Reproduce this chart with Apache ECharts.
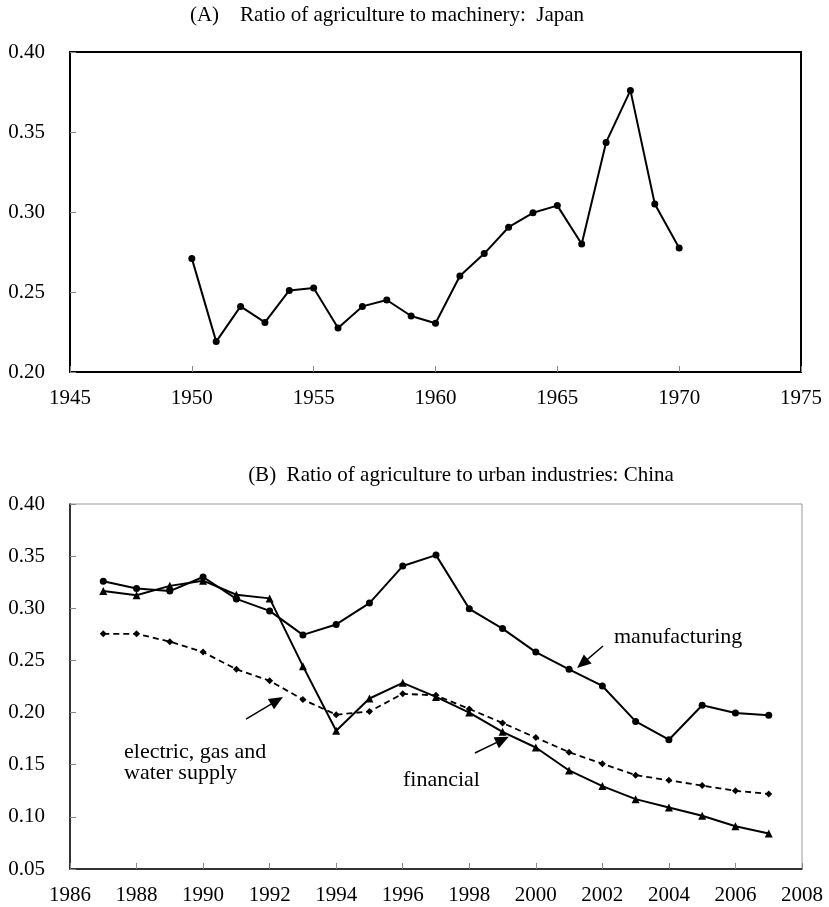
<!DOCTYPE html>
<html><head><meta charset="utf-8">
<script src="https://cdn.jsdelivr.net/npm/echarts@6/dist/echarts.min.js"></script>
<style>html,body{margin:0;padding:0;background:#fff}#c{width:829px;height:907px}</style>
</head><body><div id="c"></div>
<script>
const yearsA = [1950,1951,1952,1953,1954,1955,1956,1957,1958,1959,1960,1961,1962,1963,1964,1965,1966,1967,1968,1969,1970];
const japan = [0.271,0.219,0.241,0.231,0.251,0.2525,0.2275,0.241,0.245,0.235,0.2305,0.26,0.274,0.2905,0.2995,0.304,0.280,0.3435,0.376,0.305,0.2775];

const yearsB = [1987,1988,1989,1990,1991,1992,1993,1994,1995,1996,1997,1998,1999,2000,2001,2002,2003,2004,2005,2006,2007];
const manufacturing = [0.326,0.319,0.3165,0.330,0.309,0.2975,0.2745,0.2845,0.305,0.3405,0.351,0.2995,0.2805,0.258,0.2415,0.2255,0.1915,0.174,0.207,0.1995,0.1975];
const financial = [0.3165,0.3125,0.3215,0.3265,0.313,0.3095,0.2445,0.1825,0.2135,0.2285,0.215,0.200,0.1815,0.1665,0.1445,0.1295,0.117,0.109,0.101,0.091,0.084];
const electric = [0.2755,0.2755,0.268,0.258,0.2415,0.2305,0.2125,0.198,0.201,0.218,0.2165,0.2035,0.19,0.176,0.162,0.151,0.14,0.135,0.130,0.125,0.122];

const titleA = '(A)    Ratio of agriculture to machinery:  Japan';
const titleB = '(B)  Ratio of agriculture to urban industries: China';
const labelManufacturing = 'manufacturing';
const labelFinancial = 'financial';
const labelElectric = 'electric, gas and\nwater supply';

// annotation arrows (data coordinates of panel B)
const arrowManufacturing = [[2002.02,0.2638],[2001.40,0.2470]];
const arrowFinancial = [[1998.17,0.1612],[1999.00,0.1740]];
const arrowElectric = [[1991.29,0.1938],[1992.22,0.2115]];

const pair = (xs, ys) => xs.map((x,i)=>[x, ys[i]]);
const FONT = '"Liberation Serif","Times New Roman",serif';
const arrowLine = (a) => [{coord:a[0], symbol:'none'},{coord:a[1], symbol:'triangle'}];

const chart = echarts.init(document.getElementById('c'), null, {renderer:'canvas'});
const axisLabel = {color:'#000', fontFamily:FONT, fontSize:21};
const option = {
  animation:false,
  textStyle:{fontFamily:FONT},
  grid:[
    {left:70, top:52, width:731, height:320, show:true, borderColor:'#000', borderWidth:2, backgroundColor:'transparent'},
    {left:70, top:504, width:732, height:365, show:true, borderColor:'#999', borderWidth:1, backgroundColor:'transparent'}
  ],
  xAxis:[
    {gridIndex:0, type:'value', min:1945, max:1975, interval:5,
     axisLine:{show:true, lineStyle:{color:'#000', width:2}},
     axisTick:{show:true, inside:true, length:6, lineStyle:{color:'#888'}},
     axisLabel:Object.assign({margin:16, formatter:v=>String(v)}, axisLabel), splitLine:{show:false}},
    {gridIndex:1, type:'value', min:1986, max:2008, interval:2,
     axisLine:{show:true, lineStyle:{color:'#000', width:1.5}},
     axisTick:{show:true, inside:true, length:6, lineStyle:{color:'#888'}},
     axisLabel:Object.assign({margin:16, formatter:v=>String(v)}, axisLabel), splitLine:{show:false}}
  ],
  yAxis:[
    {gridIndex:0, type:'value', min:0.20, max:0.40, interval:0.05,
     axisLine:{show:true, lineStyle:{color:'#000', width:2}},
     axisTick:{show:true, inside:true, length:6, lineStyle:{color:'#888'}},
     axisLabel:Object.assign({margin:25, formatter:v=>v.toFixed(2)}, axisLabel), splitLine:{show:false}},
    {gridIndex:1, type:'value', min:0.05, max:0.40, interval:0.05,
     axisLine:{show:true, lineStyle:{color:'#000', width:1.5}},
     axisTick:{show:true, inside:true, length:6, lineStyle:{color:'#888'}},
     axisLabel:Object.assign({margin:25, formatter:v=>v.toFixed(2)}, axisLabel), splitLine:{show:false}}
  ],
  series:[
    {name:'Japan', type:'line', xAxisIndex:0, yAxisIndex:0, data:pair(yearsA, japan),
     symbol:'circle', symbolSize:7, itemStyle:{color:'#000'}, lineStyle:{color:'#000', width:2}},
    {name:'manufacturing', type:'line', xAxisIndex:1, yAxisIndex:1, data:pair(yearsB, manufacturing),
     symbol:'circle', symbolSize:7, itemStyle:{color:'#000'}, lineStyle:{color:'#000', width:2},
     markLine:{silent:true, symbolSize:[12,14], label:{show:false},
       lineStyle:{color:'#000', width:1.5, type:'solid'},
       data:[arrowLine(arrowManufacturing), arrowLine(arrowFinancial), arrowLine(arrowElectric)]}},
    {name:'financial', type:'line', xAxisIndex:1, yAxisIndex:1, data:pair(yearsB, financial),
     symbol:'triangle', symbolSize:8, itemStyle:{color:'#000'}, lineStyle:{color:'#000', width:2}},
    {name:'electric, gas and water supply', type:'line', xAxisIndex:1, yAxisIndex:1, data:pair(yearsB, electric),
     symbol:'diamond', symbolSize:7, itemStyle:{color:'#000'}, lineStyle:{color:'#000', width:1.8, type:[6,4]}}
  ],
  graphic:[
    {type:'text', style:{text:titleA, font:'21px '+FONT, fill:'#000', textAlign:'center', textVerticalAlign:'middle', x:387, y:15}},
    {type:'text', style:{text:titleB, font:'21px '+FONT, fill:'#000', textAlign:'center', textVerticalAlign:'middle', x:461, y:475}},
    {type:'text', style:{text:labelManufacturing, font:'22px '+FONT, fill:'#000', textAlign:'left', textVerticalAlign:'middle', x:614, y:637}},
    {type:'text', style:{text:labelFinancial, font:'22px '+FONT, fill:'#000', textAlign:'left', textVerticalAlign:'middle', x:403, y:780}},
    {type:'text', style:{text:labelElectric, font:'22px '+FONT, fill:'#000', textAlign:'left', textVerticalAlign:'top', lineHeight:21, x:124, y:742}}
  ]
};
chart.setOption(option);
</script></body></html>
